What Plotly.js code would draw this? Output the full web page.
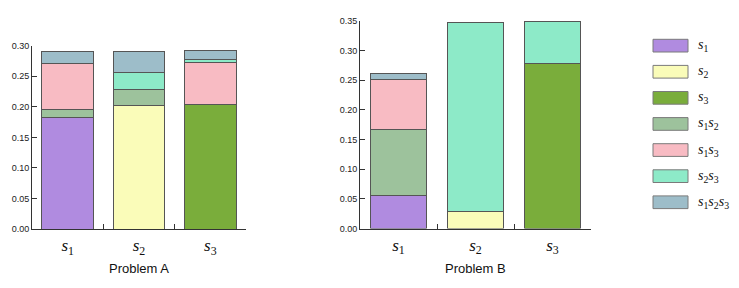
<!DOCTYPE html>
<html>
<head>
<meta charset="utf-8">
<script src="https://cdn.plot.ly/plotly-3.0.1.min.js"></script>
<style>html,body{margin:0;padding:0;background:#fff;}#chart{width:739px;height:288px;}</style>
</head>
<body>
<div id="chart"></div>
<script>
// ---- data ----
const categories = ['s1', 's2', 's3'];
const tickLabels = ['<i>s</i><sub>1</sub>', '<i>s</i><sub>2</sub>', '<i>s</i><sub>3</sub>'];
const seriesNames = ['s1', 's2', 's3', 's1s2', 's1s3', 's2s3', 's1s2s3'];
const seriesLabels = [
  '<i>s</i><sub>1</sub>',
  '<i>s</i><sub>2</sub>',
  '<i>s</i><sub>3</sub>',
  '<i>s</i><sub>1</sub><i>s</i><sub>2</sub>',
  '<i>s</i><sub>1</sub><i>s</i><sub>3</sub>',
  '<i>s</i><sub>2</sub><i>s</i><sub>3</sub>',
  '<i>s</i><sub>1</sub><i>s</i><sub>2</sub><i>s</i><sub>3</sub>'
];
const seriesColors = ['#b08be0', '#fafcb9', '#7aad3b', '#9dc29c', '#f8bbc3', '#8deac8', '#9dbdc9'];

// Problem A (values per category s1, s2, s3)
const probA_s1     = [0.183, null, null];
const probA_s2     = [null, 0.202, null];
const probA_s3     = [null, null, 0.204];
const probA_s1s2   = [0.012, 0.027, null];
const probA_s1s3   = [0.076, null, 0.069];
const probA_s2s3   = [null, 0.027, 0.005];
const probA_s1s2s3 = [0.020, 0.035, 0.014];

// Problem B
const probB_s1     = [0.056, null, null];
const probB_s2     = [null, 0.029, null];
const probB_s3     = [null, null, 0.2785];
const probB_s1s2   = [0.111, null, null];
const probB_s1s3   = [0.085, null, null];
const probB_s2s3   = [null, 0.319, 0.070];
const probB_s1s2s3 = [0.010, null, null];

const probA = [probA_s1, probA_s2, probA_s3, probA_s1s2, probA_s1s3, probA_s2s3, probA_s1s2s3];
const probB = [probB_s1, probB_s2, probB_s3, probB_s1s2, probB_s1s3, probB_s2s3, probB_s1s2s3];

// ---- traces ----
const traces = [];
function addSet(vals, xa, ya) {
  vals.forEach((v, i) => {
    traces.push({
      type: 'bar', x: categories, y: v, name: seriesNames[i],
      xaxis: xa, yaxis: ya, showlegend: false,
      marker: {color: seriesColors[i], line: {color: '#555', width: 1}},
      hoverinfo: 'skip'
    });
  });
}
addSet(probA, 'x', 'y');
addSet(probB, 'x2', 'y2');

const W = 739, H = 288;
const fx = px => px / W;
const fy = py => 1 - py / H;

const axisFont = {family: 'Liberation Sans, Arial, sans-serif', size: 9, color: '#222'};
const catFont = {family: 'Liberation Serif, DejaVu Serif, serif', size: 17, color: '#111'};

function yax(domain, top) {
  return {
    domain: domain, range: [0, top], dtick: 0.05, tickformat: '.2f',
    showline: true, linecolor: '#333', linewidth: 1,
    ticks: 'inside', ticklen: 5, tickcolor: '#333',
    showgrid: false, zeroline: false, tickfont: axisFont, fixedrange: true
  };
}
function xax(domain, anchor) {
  return {
    domain: domain, anchor: anchor, type: 'category', range: [-0.5, 2.5],
    tickvals: categories, ticktext: tickLabels,
    showline: true, linecolor: '#333', linewidth: 1,
    ticks: 'inside', ticklen: 5, tickcolor: '#333', tickson: 'boundaries',
    showgrid: false, zeroline: false, tickfont: catFont, ticklabelstandoff: 1, fixedrange: true
  };
}

// ---- legend (custom swatches) ----
const shapes = [];
const annotations = [];
const legTop = 39.3, legStep = 26.1, swW = 35, swH = 12.7, swX = 653;
seriesNames.forEach((n, i) => {
  const t = legTop + i * legStep;
  shapes.push({
    type: 'rect', xref: 'paper', yref: 'paper',
    x0: fx(swX), x1: fx(swX + swW), y0: fy(t + swH), y1: fy(t),
    fillcolor: seriesColors[i], line: {color: '#7a7a7a', width: 1}
  });
  annotations.push({
    xref: 'paper', yref: 'paper', x: fx(696), y: fy(t + swH / 2),
    xanchor: 'left', yanchor: 'middle', showarrow: false,
    text: seriesLabels[i],
    font: {family: 'Liberation Serif, DejaVu Serif, serif', size: 14, color: '#111'}
  });
});

const titleFont = {family: 'Liberation Sans, Arial, sans-serif', size: 13, color: '#111'};
annotations.push({xref: 'paper', yref: 'paper', x: fx((32 + 246) / 2), y: fy(268),
  xanchor: 'center', yanchor: 'middle', showarrow: false, text: 'Problem A', font: titleFont});
annotations.push({xref: 'paper', yref: 'paper', x: fx((360 + 591) / 2), y: fy(268),
  xanchor: 'center', yanchor: 'middle', showarrow: false, text: 'Problem B', font: titleFont});

const layout = {
  width: W, height: H,
  margin: {l: 0, r: 0, t: 0, b: 0, pad: 0},
  paper_bgcolor: '#fff', plot_bgcolor: '#fff',
  barmode: 'stack', bargap: 0.28,
  showlegend: false,
  xaxis: xax([fx(32), fx(246)], 'y'),
  yaxis: Object.assign(yax([fy(229), fy(45.7)], 0.30), {anchor: 'x'}),
  xaxis2: xax([fx(360), fx(591)], 'y2'),
  yaxis2: Object.assign(yax([fy(228.5), fy(21)], 0.35), {anchor: 'x2'}),
  shapes: shapes,
  annotations: annotations
};

Plotly.newPlot('chart', traces, layout, {displayModeBar: false, staticPlot: true});
</script>
</body>
</html>
